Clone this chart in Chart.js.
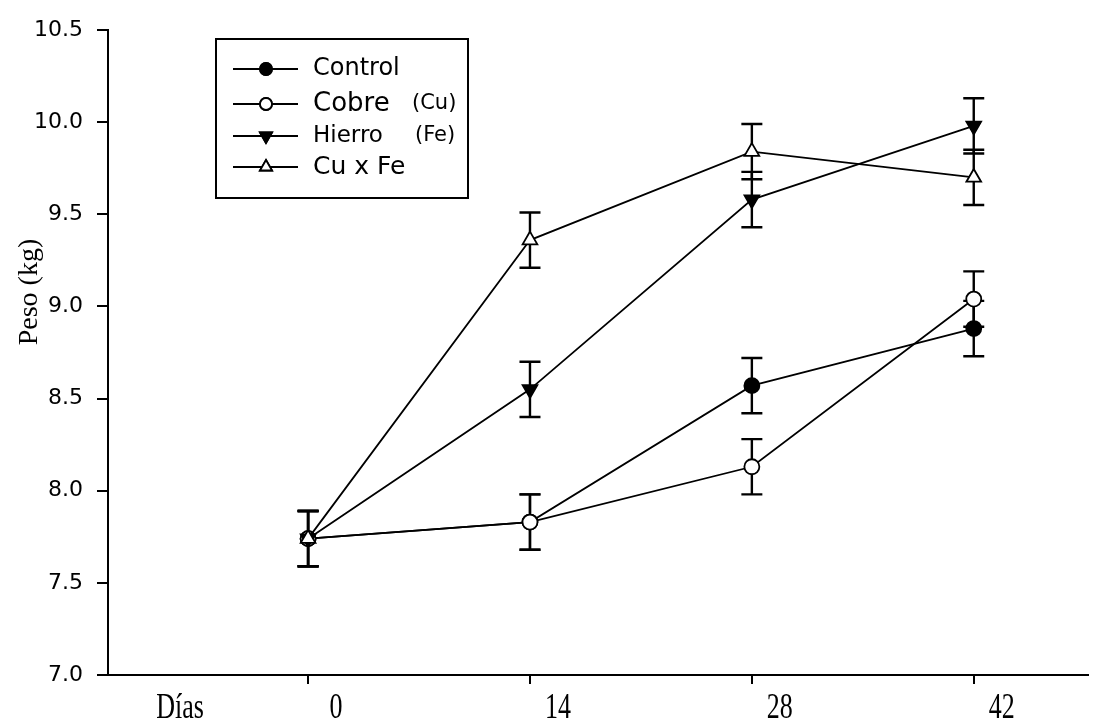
<!DOCTYPE html>
<html>
<head>
<meta charset="utf-8">
<script src="https://cdn.jsdelivr.net/npm/chart.js@4.4.1/dist/chart.umd.min.js"></script>
<style>
  html, body { margin: 0; padding: 0; background: #fff; }
</style>
</head>
<body>
<canvas id="pesoChart" width="1098" height="721"></canvas>
<script>
// días de muestreo y peso medio (kg) por tratamiento
const dias = [0, 14, 28, 42];
const control = [7.74, 7.83, 8.57, 8.88];
const cobre = [7.74, 7.83, 8.13, 9.04];
const hierro = [7.74, 8.55, 9.58, 9.98];
const cuFe = [7.74, 9.36, 9.84, 9.70];
// error estándar
const errControl = [0.15, 0.15, 0.15, 0.15];
const errCobre = [0.15, 0.15, 0.15, 0.15];
const errHierro = [0.15, 0.15, 0.15, 0.15];
const errCuFe = [0.15, 0.15, 0.15, 0.15];
const yTicks = [7.0, 7.5, 8.0, 8.5, 9.0, 9.5, 10.0, 10.5];
const legendLabels = [["Control", ""], ["Cobre", "(Cu)"], ["Hierro", "(Fe)"], ["Cu x Fe", ""]];

const puntos = vals => dias.map((d, i) => ({ x: d, y: vals[i] }));

function serie(label, vals, errs, fill, style, rot, orden) {
    return {
        label: label,
        data: puntos(vals),
        errores: errs,
        order: orden,
        borderColor: "#000",
        borderWidth: 1.8,
        tension: 0,
        pointStyle: style,
        rotation: rot,
        pointRadius: style === "circle" ? 7.5 : 8.5,
        pointBackgroundColor: fill,
        pointBorderColor: "#000",
        pointBorderWidth: 1.8,
    };
}

// barras de error, debajo de los marcadores
const errorBars = {
    id: "errorBars",
    beforeDatasetsDraw(chart) {
        const ctx = chart.ctx;
        const xs = chart.scales.x, ys = chart.scales.y;
        ctx.save();
        ctx.strokeStyle = "#000";
        ctx.lineWidth = 2.4;
        chart.data.datasets.forEach(ds => {
            ds.data.forEach((p, i) => {
                const x = xs.getPixelForValue(p.x);
                const top = ys.getPixelForValue(p.y + ds.errores[i]);
                const bot = ys.getPixelForValue(p.y - ds.errores[i]);
                ctx.beginPath();
                ctx.moveTo(x, top); ctx.lineTo(x, bot);
                ctx.moveTo(x - 10.5, top); ctx.lineTo(x + 10.5, top);
                ctx.moveTo(x - 10.5, bot); ctx.lineTo(x + 10.5, bot);
                ctx.stroke();
            });
        });
        ctx.restore();
    }
};

// texto serif estirado en vertical, como en la figura original
function textoAlto(ctx, txt, x, base) {
    ctx.save();
    ctx.translate(x, base);
    ctx.scale(1, 1.35);
    ctx.fillText(txt, 0, 0);
    ctx.restore();
}

// leyenda con línea y marcador, y textos sueltos
const extras = {
    id: "extras",
    afterDraw(chart) {
        const ctx = chart.ctx;
        ctx.save();
        // título eje y
        ctx.fillStyle = "#000";
        ctx.font = "28px 'Liberation Serif'";
        ctx.textAlign = "center";
        ctx.textBaseline = "middle";
        ctx.translate(30, 292);
        ctx.rotate(-Math.PI / 2);
        ctx.fillText("Peso (kg)", 0, 0);
        ctx.restore();

        // etiquetas del eje x (a la derecha de cada marca) y "Días"
        ctx.save();
        ctx.fillStyle = "#000";
        ctx.font = "26px 'Liberation Serif'";
        ctx.textAlign = "center";
        ctx.textBaseline = "alphabetic";
        const xs = chart.scales.x;
        xs.ticks.forEach(t => {
            textoAlto(ctx, String(t.value), xs.getPixelForValue(t.value) + 28, 718);
        });
        textoAlto(ctx, "Días", 180, 718);
        ctx.restore();

        // caja de leyenda
        ctx.save();
        ctx.strokeStyle = "#000";
        ctx.lineWidth = 2;
        ctx.strokeRect(216, 39, 252, 159);
        const filas = [69, 104, 136, 167];
        const sizes = [24, 26, 23, 25];
        const subX = [0, 412, 415, 0];
        const subSize = [0, 21, 21, 0];
        chart.data.datasets.forEach((ds, i) => {
            const y = filas[i];
            ctx.beginPath();
            ctx.lineWidth = 1.8;
            ctx.moveTo(233, y); ctx.lineTo(298, y);
            ctx.stroke();
            Chart.helpers.drawPoint(ctx, {
                pointStyle: ds.pointStyle,
                radius: ds.pointStyle === "circle" ? 6 : 7,
                rotation: ds.rotation,
                borderWidth: 1.8
            }, 266, y);
            ctx.fillStyle = ds.pointBackgroundColor;
            ctx.strokeStyle = "#000";
            ctx.fill();
            ctx.stroke();
            ctx.fillStyle = "#000";
            ctx.font = sizes[i] + "px 'DejaVu Sans'";
            ctx.textAlign = "left";
            ctx.textBaseline = "middle";
            ctx.fillText(legendLabels[i][0], 313, y);
            if (legendLabels[i][1]) {
                ctx.font = subSize[i] + "px 'DejaVu Sans'";
                ctx.fillText(legendLabels[i][1], subX[i], y);
            }
        });
        ctx.restore();
    }
};

new Chart(document.getElementById("pesoChart").getContext("2d"), {
    type: "line",
    data: {
        datasets: [
            serie("Control", control, errControl, "#000", "circle", 0, 4),
            serie("Cobre (Cu)", cobre, errCobre, "#fff", "circle", 0, 3),
            serie("Hierro (Fe)", hierro, errHierro, "#000", "triangle", 180, 2),
            serie("Cu x Fe", cuFe, errCuFe, "#fff", "triangle", 0, 1),
        ],
    },
    options: {
        responsive: false,
        animation: false,
        devicePixelRatio: 1,
        layout: { padding: { top: 30, right: 1, left: 0, bottom: 0 } },
        plugins: {
            legend: { display: false },
            tooltip: { enabled: false },
        },
        scales: {
            x: {
                type: "linear",
                min: -12.625,
                max: 49.19,
                afterBuildTicks: s => { s.ticks = dias.map(v => ({ value: v })); },
                afterFit: s => { s.height = 46; },
                border: { color: "#000", width: 2 },
                grid: { drawOnChartArea: false, color: "#000", lineWidth: 2, tickLength: 9 },
                ticks: { display: false },
            },
            y: {
                min: 7,
                max: 10.5,
                afterBuildTicks: s => { s.ticks = yTicks.map(v => ({ value: v })); },
                afterFit: s => { s.width = 108; },
                border: { color: "#000", width: 2 },
                grid: { drawOnChartArea: false, color: "#000", lineWidth: 2, tickLength: 11 },
                ticks: {
                    color: "#000",
                    font: { family: "'DejaVu Sans'", size: 22 },
                    padding: 14,
                    callback: v => v.toFixed(1),
                },
            },
        },
    },
    plugins: [errorBars, extras],
});
</script>
</body>
</html>
